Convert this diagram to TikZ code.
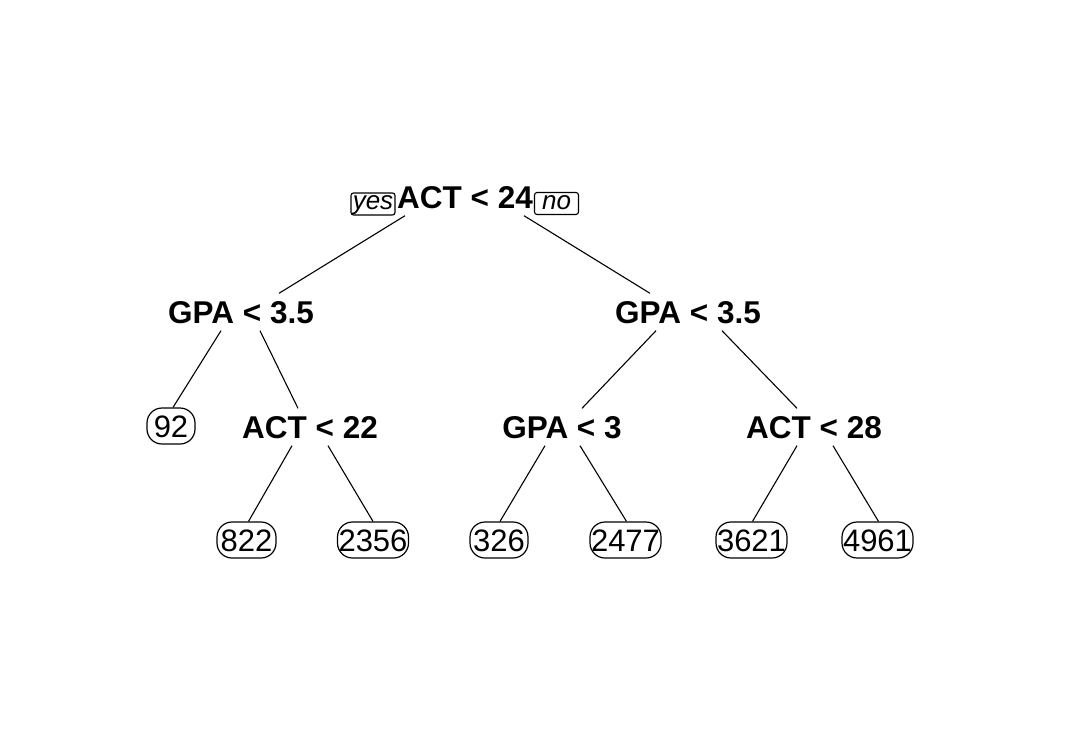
\documentclass[tikz,border=0pt]{standalone}
\usepackage{fontspec}
\setmainfont{Liberation Sans}
\begin{document}
\begin{tikzpicture}[x=1pt,y=-1pt,
  splitnode/.style={font=\fontsize{31.5}{36}\selectfont\bfseries, inner xsep=0pt, text height=22.5pt, text depth=0pt, inner ysep=7.25pt},
  leafnode/.style={draw, line width=1.2pt, rounded corners=15pt, font=\fontsize{31}{36}\selectfont, inner xsep=0pt, text height=22pt, text depth=0pt, inner ysep=0pt, minimum height=36pt},
  yesno/.style={draw, line width=1.1pt, rounded corners=2.5pt, font=\fontsize{26}{30}\selectfont\itshape, inner xsep=0pt, text height=14.5pt, text depth=3.5pt, inner ysep=0pt, minimum height=22pt, minimum width=44pt},
  branch/.style={line width=1.1pt}]
\useasboundingbox (0,0) rectangle (1072,732);
\fill[white] (0,0) rectangle (1072,732);
% split nodes
\node[splitnode] (root) at (465,197) {ACT < 24};
\node[splitnode] (gl) at (241,312) {GPA < 3.5};
\node[splitnode] (gr) at (688,312) {GPA < 3.5};
\node[splitnode] (a22) at (310,427) {ACT < 22};
\node[splitnode] (g3) at (562,427) {GPA < 3};
\node[splitnode] (a28) at (814,427) {ACT < 28};
% yes / no
\node[yesno] (yes) at (373,204) {yes};
\node[yesno] (no) at (556.5,203.5) {no};
% leaves
\node[leafnode, minimum width=48pt] (l92) at (171,426) {92};
\node[leafnode, minimum width=59pt] (l822) at (246.5,540) {822};
\node[leafnode, minimum width=71pt] (l2356) at (373,540) {2356};
\node[leafnode, minimum width=58pt] (l326) at (499,540) {326};
\node[leafnode, minimum width=71pt] (l2477) at (625.5,540) {2477};
\node[leafnode, minimum width=71pt] (l3621) at (751.5,540) {3621};
\node[leafnode, minimum width=71pt] (l4961) at (877.5,540) {4961};
% branches
\draw[branch] ([xshift=-60pt]root.south) -- ([xshift=38pt]gl.north);
\draw[branch] ([xshift=59pt]root.south) -- ([xshift=-38pt]gr.north);
\draw[branch] ([xshift=-20pt]gl.south) -- ([xshift=2pt]l92.north);
\draw[branch] ([xshift=19pt]gl.south) -- ([xshift=-12pt]a22.north);
\draw[branch] ([xshift=-18pt]a22.south) -- ([xshift=2pt]l822.north);
\draw[branch] ([xshift=18pt]a22.south) -- (l2356.north);
\draw[branch] ([xshift=-32pt]gr.south) -- ([xshift=20pt]g3.north);
\draw[branch] ([xshift=34pt]gr.south) -- ([xshift=-17pt]a28.north);
\draw[branch] ([xshift=-17pt]g3.south) -- ([xshift=1pt]l326.north);
\draw[branch] ([xshift=18pt]g3.south) -- ([xshift=1pt]l2477.north);
\draw[branch] ([xshift=-17pt]a28.south) -- ([xshift=1pt]l3621.north);
\draw[branch] ([xshift=19pt]a28.south) -- ([xshift=1pt]l4961.north);
\end{tikzpicture}
\end{document}
